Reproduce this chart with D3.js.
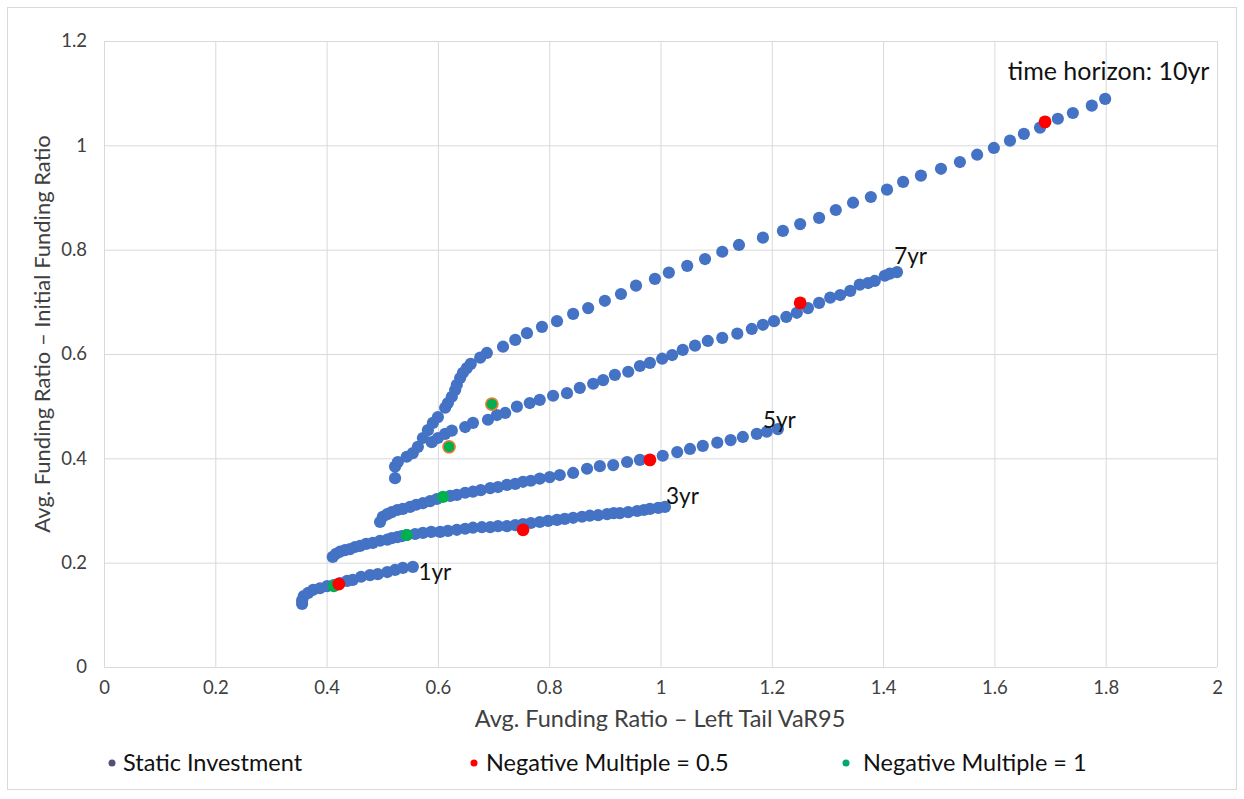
<!DOCTYPE html>
<html>
<head>
<meta charset="utf-8">
<script src="https://cdn.jsdelivr.net/npm/d3@7"></script>
<style>
  body { margin: 0; background: #fff; }
  svg text { font-family: Lato, "Open Sans", sans-serif; fill: #404040; }
</style>
</head>
<body>
<script>
'use strict';

// static investment curves, one per time horizon: [VaR95, avg - initial]
const yr1 = [[0.356,0.121],[0.356,0.128],[0.359,0.136],[0.367,0.142],[0.376,0.148],[0.388,0.151],
  [0.401,0.155],[0.413,0.157],[0.424,0.161],[0.437,0.165],[0.447,0.167],[0.462,0.173],[0.478,0.176],
  [0.492,0.178],[0.509,0.182],[0.523,0.186],[0.537,0.190],[0.555,0.192]];

const yr3 = [[0.411,0.211],[0.417,0.217],[0.424,0.221],[0.433,0.224],[0.442,0.226],[0.451,0.230],
  [0.460,0.232],[0.471,0.236],[0.483,0.238],[0.496,0.242],[0.509,0.244],[0.517,0.247],[0.527,0.249],
  [0.535,0.251],[0.544,0.253],[0.559,0.255],[0.573,0.257],[0.588,0.259],[0.604,0.259],[0.618,0.261],
  [0.634,0.263],[0.649,0.265],[0.663,0.267],[0.679,0.268],[0.694,0.268],[0.708,0.270],[0.724,0.270],
  [0.739,0.272],[0.753,0.274],[0.767,0.276],[0.783,0.278],[0.798,0.280],[0.814,0.282],[0.828,0.284],
  [0.843,0.286],[0.859,0.288],[0.873,0.290],[0.888,0.291],[0.904,0.293],[0.916,0.295],[0.927,0.295],
  [0.942,0.297],[0.958,0.299],[0.970,0.301],[0.981,0.303],[0.996,0.305],[1.008,0.307]];

const yr5 = [[0.496,0.278],[0.501,0.288],[0.509,0.293],[0.517,0.297],[0.527,0.301],[0.537,0.303],
  [0.550,0.307],[0.561,0.311],[0.573,0.314],[0.586,0.318],[0.598,0.322],[0.622,0.328],[0.634,0.330],
  [0.649,0.334],[0.663,0.336],[0.677,0.339],[0.694,0.343],[0.708,0.345],[0.724,0.349],[0.739,0.351],
  [0.753,0.355],[0.767,0.357],[0.783,0.361],[0.801,0.364],[0.819,0.368],[0.843,0.372],[0.868,0.380],
  [0.891,0.385],[0.915,0.387],[0.940,0.393],[0.963,0.397],[1.004,0.405],[1.030,0.412],[1.053,0.418],
  [1.076,0.424],[1.102,0.430],[1.126,0.435],[1.148,0.441],[1.173,0.447],[1.191,0.451],[1.211,0.456]];

const yr7 = [[0.589,0.431],[0.600,0.439],[0.613,0.447],[0.625,0.453],[0.649,0.460],[0.663,0.468],
  [0.690,0.474],[0.706,0.483],[0.721,0.487],[0.742,0.499],[0.765,0.506],[0.783,0.512],[0.807,0.520],
  [0.832,0.525],[0.855,0.535],[0.879,0.543],[0.897,0.550],[0.918,0.560],[0.942,0.566],[0.963,0.577],
  [0.981,0.583],[1.003,0.591],[1.021,0.598],[1.040,0.608],[1.062,0.616],[1.085,0.625],[1.111,0.631],
  [1.138,0.639],[1.164,0.648],[1.184,0.656],[1.204,0.663],[1.226,0.671],[1.245,0.679],[1.265,0.688],
  [1.285,0.698],[1.305,0.708],[1.323,0.713],[1.341,0.721],[1.358,0.733],[1.373,0.736],[1.385,0.740],
  [1.403,0.750],[1.412,0.754],[1.425,0.757]];

const yr10 = [[0.523,0.362],[0.523,0.384],[0.528,0.393],[0.544,0.403],[0.555,0.410],[0.564,0.422],
  [0.573,0.439],[0.582,0.454],[0.591,0.468],[0.600,0.479],[0.613,0.497],[0.618,0.506],[0.625,0.518],
  [0.631,0.531],[0.634,0.541],[0.640,0.554],[0.645,0.564],[0.652,0.573],[0.659,0.581],[0.676,0.593],
  [0.688,0.602],[0.717,0.614],[0.739,0.627],[0.760,0.640],[0.787,0.652],[0.814,0.663],[0.843,0.677],
  [0.870,0.688],[0.900,0.702],[0.929,0.715],[0.956,0.731],[0.990,0.744],[1.015,0.756],[1.048,0.769],
  [1.080,0.782],[1.111,0.796],[1.141,0.809],[1.184,0.823],[1.220,0.836],[1.251,0.849],[1.285,0.861],
  [1.315,0.876],[1.346,0.890],[1.378,0.901],[1.407,0.915],[1.436,0.930],[1.468,0.942],[1.504,0.955],
  [1.538,0.968],[1.569,0.982],[1.599,0.995],[1.628,1.009],[1.653,1.022],[1.682,1.034],[1.714,1.051],
  [1.741,1.062],[1.775,1.076],[1.799,1.089]];

// dynamic strategies
const negOne = [[0.413,0.155],[0.544,0.253],[0.609,0.326],[0.620,0.422],[0.697,0.504]];
const negOneOutlined = [false, false, false, true, true];
const negHalf = [[0.422,0.159],[0.753,0.263],[0.981,0.397],[1.251,0.698],[1.691,1.045]];

const horizonLabels = [
  { text: '1yr', at: [0.565, 0.167], size: 22.5 },
  { text: '3yr', at: [1.010, 0.313], size: 22.5 },
  { text: '5yr', at: [1.184, 0.459], size: 22.5 },
  { text: '7yr', at: [1.420, 0.772], size: 22.5 },
  { text: 'time horizon: 10yr', at: [1.624, 1.126], size: 25 }
];

const xTicks = [0, 0.2, 0.4, 0.6, 0.8, 1, 1.2, 1.4, 1.6, 1.8, 2];
const yTicks = [0, 0.2, 0.4, 0.6, 0.8, 1, 1.2];
const legendItems = ['Static Investment', 'Negative Multiple = 0.5', 'Negative Multiple = 1'];
const legendColors = ['#50507a', '#ff0000', '#00a86b'];

const blue = '#4472c4', red = '#ff0000', green = '#00b050', orange = '#ed7d31';

const width = 1244, height = 799;
const svg = d3.select('body').append('svg')
  .attr('width', width)
  .attr('height', height);

// outer chart frame
svg.append('rect')
  .attr('x', 7.5).attr('y', 7.5)
  .attr('width', 1229).attr('height', 782)
  .attr('fill', '#fff')
  .attr('stroke', '#d9d9d9');

const x = d3.scaleLinear().domain([0, 2]).range([104, 1217]);
const y = d3.scaleLinear().domain([0, 1.2]).range([667, 41]);

// gridlines
svg.append('g')
  .selectAll('line')
  .data(yTicks)
  .enter()
  .append('line')
    .attr('x1', x(0)).attr('x2', x(2))
    .attr('y1', d => y(d) + 0.5).attr('y2', d => y(d) + 0.5)
    .attr('stroke', '#d9d9d9');

svg.append('g')
  .selectAll('line')
  .data(xTicks)
  .enter()
  .append('line')
    .attr('x1', d => x(d) + 0.5).attr('x2', d => x(d) + 0.5)
    .attr('y1', y(0)).attr('y2', y(1.2))
    .attr('stroke', '#d9d9d9');

// axes (labels only, Excel style)
const xAxis = svg.append('g')
  .attr('transform', `translate(0, ${y(0)})`)
  .call(d3.axisBottom(x).tickValues(xTicks).tickSize(0).tickPadding(14).tickFormat(d3.format('')));
xAxis.select('.domain').remove();
xAxis.selectAll('text').style('font-size', '18.5px').attr('fill', '#595959');

const yAxis = svg.append('g')
  .attr('transform', `translate(${x(0)}, 0)`)
  .call(d3.axisLeft(y).tickValues(yTicks).tickSize(0).tickPadding(17).tickFormat(d3.format('')));
yAxis.select('.domain').remove();
yAxis.selectAll('text').style('font-size', '18.5px').attr('fill', '#595959');

// axis titles
svg.append('text')
  .attr('x', 660)
  .attr('y', 727)
  .attr('text-anchor', 'middle')
  .style('font-size', '23.5px')
  .text('Avg. Funding Ratio – Left Tail VaR95');

svg.append('text')
  .attr('transform', 'translate(50, 334)rotate(-90)')
  .attr('text-anchor', 'middle')
  .style('font-size', '22px')
  .text('Avg. Funding Ratio – Initial Funding Ratio');

// static investment points
const r = 6.1;
[yr1, yr3, yr5, yr7, yr10].forEach(series => {
  svg.append('g')
    .selectAll('circle')
    .data(series)
    .enter()
    .append('circle')
      .attr('cx', d => x(d[0]))
      .attr('cy', d => y(d[1]))
      .attr('r', r)
      .attr('fill', blue);
});

svg.append('g')
  .selectAll('circle')
  .data(negOne)
  .enter()
  .append('circle')
    .attr('cx', d => x(d[0]))
    .attr('cy', d => y(d[1]))
    .attr('r', r)
    .attr('fill', green)
    .attr('stroke', (d, i) => negOneOutlined[i] ? orange : 'none')
    .attr('stroke-width', 1.6);

svg.append('g')
  .selectAll('circle')
  .data(negHalf)
  .enter()
  .append('circle')
    .attr('cx', d => x(d[0]))
    .attr('cy', d => y(d[1]))
    .attr('r', r + 0.3)
    .attr('fill', red);

// horizon labels
svg.append('g')
  .selectAll('text')
  .data(horizonLabels)
  .enter()
  .append('text')
    .attr('x', d => x(d.at[0]))
    .attr('y', d => y(d.at[1]))
    .style('font-size', d => d.size + 'px')
    .style('fill', '#111')
    .text(d => d.text);

// legend
const legendX = [112, 474, 846];
const legendGap = [11, 12, 17];
const legend = svg.append('g');
legendItems.forEach((name, i) => {
  legend.append('circle')
    .attr('cx', legendX[i])
    .attr('cy', 763)
    .attr('r', 3.5)
    .attr('fill', legendColors[i]);
  legend.append('text')
    .attr('x', legendX[i] + legendGap[i])
    .attr('y', 771)
    .style('font-size', '23.5px')
    .style('fill', '#111')
    .text(name);
});
</script>
</body>
</html>
